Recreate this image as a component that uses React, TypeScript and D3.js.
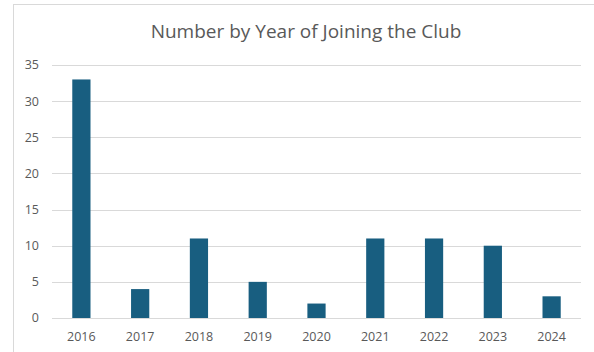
import React from "react";
import * as d3 from "d3";

const years = ["2016", "2017", "2018", "2019", "2020", "2021", "2022", "2023", "2024"];
const counts = [33, 4, 11, 5, 2, 11, 11, 10, 3];
const yTicks = [0, 5, 10, 15, 20, 25, 30, 35];
const title = "Number by Year of Joining the Club";

export default function App() {
  const W = 594, H = 352;
  const left = 52, right = 581, top = 65, bottom = 318;
  const x = d3.scaleBand<string>().domain(years).range([left, right]).paddingInner(0.69).paddingOuter(0.345);
  const y = d3.scaleLinear().domain([0, 35]).range([bottom, top]);
  const font = "'Open Sans', sans-serif";
  return (
    <svg width={W} height={H} style={{ position: "absolute", left: 0, top: 0, background: "#fff" }}>
      <rect x={13.5} y={4.5} width={620} height={400} fill="#fff" stroke="#d9d9d9" />
      <text x={306} y={38} textAnchor="middle" fontFamily={font} fontSize={19} fill="#595959">{title}</text>
      {yTicks.map((t) => (
        <g key={t}>
          <line x1={left} x2={right} y1={Math.round(y(t)) + 0.5} y2={Math.round(y(t)) + 0.5} stroke="#d9d9d9" strokeWidth={1} />
          <text x={39} y={y(t)} dy="0.35em" textAnchor="end" fontFamily={font} fontSize={12.5} fill="#595959">{t}</text>
        </g>
      ))}
      {years.map((yr, i) => (
        <g key={yr}>
          <rect x={x(yr)} y={y(counts[i])} width={x.bandwidth()} height={y(0) - y(counts[i])} fill="#185e80" />
          <text x={(x(yr) as number) + x.bandwidth() / 2} y={337} dy="0.35em" textAnchor="middle" fontFamily={font} fontSize={12.5} fill="#595959">{yr}</text>
        </g>
      ))}
    </svg>
  );
}
